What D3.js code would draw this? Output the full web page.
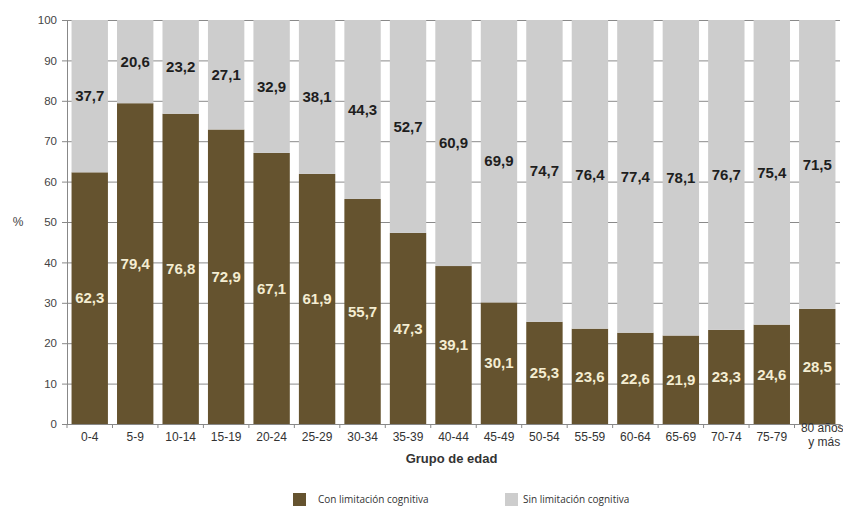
<!DOCTYPE html>
<html>
<head>
<meta charset="utf-8">
<script src="https://cdn.jsdelivr.net/npm/d3@7"></script>
<style>
  body { margin: 0; background: #fff; }
</style>
</head>
<body>
<div id="chart"></div>
<script>
const categories = ['0-4', '5-9', '10-14', '15-19', '20-24', '25-29', '30-34', '35-39', '40-44',
  '45-49', '50-54', '55-59', '60-64', '65-69', '70-74', '75-79', '80 años y más'];
const conLimitacion = [62.3, 79.4, 76.8, 72.9, 67.1, 61.9, 55.7, 47.3, 39.1, 30.1, 25.3, 23.6, 22.6, 21.9, 23.3, 24.6, 28.5];
const sinLimitacion = [37.7, 20.6, 23.2, 27.1, 32.9, 38.1, 44.3, 52.7, 60.9, 69.9, 74.7, 76.4, 77.4, 78.1, 76.7, 75.4, 71.5];
const yTicks = [0, 10, 20, 30, 40, 50, 60, 70, 80, 90, 100];
const seriesNames = ['Con limitación cognitiva', 'Sin limitación cognitiva'];

const W = 843, H = 512;
const margin = { top: 20, right: 3, bottom: 88, left: 67 };
const width = W - margin.left - margin.right;
const height = H - margin.top - margin.bottom;
const colors = ['#65532f', '#cdcdcd'];
const FONT = '"Liberation Sans", Arial, Helvetica, sans-serif';

const svg = d3.select('#chart').append('svg')
  .attr('width', W)
  .attr('height', H)
  .attr('font-family', FONT);

const g = svg.append('g').attr('transform', `translate(${margin.left},${margin.top})`);

const x = d3.scaleBand()
  .domain(categories)
  .range([0, width])
  .paddingInner(0.2)
  .paddingOuter(0.1);

const y = d3.scaleLinear()
  .domain([0, 100])
  .range([height, 0]);

// grid lines behind bars
g.append('g')
  .call(d3.axisLeft(y).tickValues(yTicks).tickSize(-width).tickFormat(''))
  .call(s => s.select('.domain').remove())
  .selectAll('line')
  .attr('stroke', '#8a8a8a')
  .attr('stroke-width', 1);

const rows = categories.map((c, i) => ({ cat: c, con: conLimitacion[i], sin: sinLimitacion[i] }));

// bottom segment
g.selectAll('.bar-con')
  .data(rows)
  .enter()
  .append('rect')
  .attr('class', 'bar-con')
  .attr('x', d => x(d.cat))
  .attr('width', x.bandwidth())
  .attr('y', d => y(d.con))
  .attr('height', d => height - y(d.con))
  .attr('fill', colors[0]);

// top segment
g.selectAll('.bar-sin')
  .data(rows)
  .enter()
  .append('rect')
  .attr('class', 'bar-sin')
  .attr('x', d => x(d.cat))
  .attr('width', x.bandwidth())
  .attr('y', d => y(d.con + d.sin))
  .attr('height', d => y(d.con) - y(d.con + d.sin))
  .attr('fill', colors[1]);

const fmt = v => v.toFixed(1).replace('.', ',');

// value labels
g.selectAll('.lbl-con')
  .data(rows)
  .enter()
  .append('text')
  .attr('x', d => x(d.cat) + x.bandwidth() / 2)
  .attr('y', d => y(d.con / 2))
  .attr('dy', '0.35em')
  .attr('text-anchor', 'middle')
  .attr('font-family', FONT)
  .attr('font-size', '15px')
  .attr('font-weight', 'bold')
  .attr('fill', '#f4edd2')
  .text(d => fmt(d.con));

g.selectAll('.lbl-sin')
  .data(rows)
  .enter()
  .append('text')
  .attr('x', d => x(d.cat) + x.bandwidth() / 2)
  .attr('y', d => y(d.con + d.sin / 2))
  .attr('dy', '0.35em')
  .attr('text-anchor', 'middle')
  .attr('font-family', FONT)
  .attr('font-size', '15px')
  .attr('font-weight', 'bold')
  .attr('fill', '#1e1e1e')
  .text(d => fmt(d.sin));

// y axis
const yAxis = g.append('g')
  .call(d3.axisLeft(y).tickValues(yTicks).tickSize(5).tickPadding(5));
yAxis.attr('font-family', FONT);
yAxis.select('.domain').attr('stroke', '#888');
yAxis.selectAll('line').attr('stroke', '#888');
yAxis.selectAll('text').attr('font-size', '11.5px').attr('fill', '#444');

// x axis
const xAxis = g.append('g')
  .attr('transform', `translate(0,${height})`)
  .call(d3.axisBottom(x).tickSize(0).tickPadding(8));
xAxis.attr('font-family', FONT);
xAxis.select('.domain').attr('stroke', '#888');
xAxis.selectAll('text').attr('font-size', '12px').attr('fill', '#333');
// boundary ticks between categories
xAxis.selectAll('.sep')
  .data(d3.range(categories.length + 1))
  .enter()
  .append('line')
  .attr('x1', i => i * x.step())
  .attr('x2', i => i * x.step())
  .attr('y1', 0)
  .attr('y2', 4)
  .attr('stroke', '#888');

// two-line last label
xAxis.selectAll('.tick text')
  .filter(d => d === '80 años y más')
  .text(null)
  .each(function () {
    const t = d3.select(this);
    t.append('tspan').attr('x', 5).attr('dy', 0).text('80 años');
    t.append('tspan').attr('x', 7).attr('dy', '1.15em').text('y más');
  });

// axis titles
svg.append('text')
  .attr('x', 18)
  .attr('y', margin.top + y(50) + 4)
  .attr('text-anchor', 'middle')
  .attr('font-size', '12px')
  .attr('fill', '#444')
  .text('%');

svg.append('text')
  .attr('x', margin.left + width / 2 - 2)
  .attr('y', 463)
  .attr('text-anchor', 'middle')
  .attr('font-size', '13px')
  .attr('font-weight', 'bold')
  .attr('fill', '#333')
  .text('Grupo de edad');

// legend
const legend = svg.append('g').attr('transform', 'translate(293,493)');
const legX = [0, 212];
const legTextX = [25, 230];
seriesNames.forEach((name, i) => {
  legend.append('rect')
    .attr('x', legX[i])
    .attr('y', 0)
    .attr('width', 13)
    .attr('height', 13)
    .attr('fill', colors[i]);
  legend.append('text')
    .attr('x', legTextX[i])
    .attr('y', 10)
    .attr('font-size', '10px')
    .attr('fill', '#333')
    .attr('font-family', '"Open Sans", "Noto Sans", sans-serif')
    .text(name);
});
</script>
</body>
</html>
